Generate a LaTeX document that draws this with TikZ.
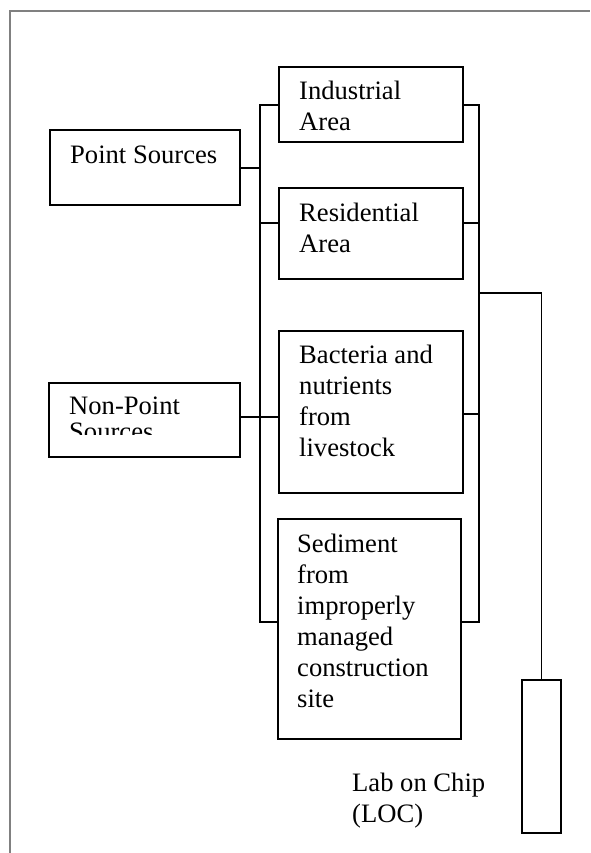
\documentclass[tikz,border=0pt]{standalone}
\usepackage{fontspec}
\setmainfont{Liberation Serif}
\begin{document}
\begin{tikzpicture}[x=1pt,y=-1pt,
  box/.style={draw=black, line width=1.6pt, rectangle, inner sep=0pt, anchor=north west},
  lbl/.style={anchor=base west, inner sep=0pt, align=left, font=\fontsize{26.6}{31}\selectfont},
  wire/.style={draw=black, line width=1.5pt},
  frame/.style={draw=black!50, line width=2pt}]
\useasboundingbox (0,0) rectangle (590,853);
% page frame (top and left edge)
\draw[frame] (10,853) -- (10,11) -- (590,11);
% boxes
\node[box, minimum width=190pt, minimum height=75pt] (ps) at (49,129) {};
\node[box, minimum width=184pt, minimum height=75pt] (ind) at (278,66) {};
\node[box, minimum width=184pt, minimum height=91pt] (res) at (278,187) {};
\node[box, minimum width=191pt, minimum height=74pt] (np) at (48,382) {};
\node[box, minimum width=184pt, minimum height=162pt] (bac) at (278,330) {};
\node[box, minimum width=183pt, minimum height=220pt] (sed) at (277,518) {};
\node[box, minimum width=39pt, minimum height=153pt] (loc) at (521,679) {};
% texts (base anchor = baseline of the last line)
\node[lbl] (tps) at (70,164) {Point Sources};
\node[lbl] (tind) at (299,131) {Industrial\\Area};
\node[lbl] (tres) at (299,252) {Residential\\Area};
\begin{scope}
\clip (40,384) rectangle (237,434);
\node[lbl, font=\fontsize{26.6}{26.5}\selectfont] (tnp) at (69,440.5) {Non-Point\\Sources};
\end{scope}
\node[lbl] (tbac) at (299,456) {Bacteria and\\nutrients\\from\\livestock};
\node[lbl] (tsed) at (297,707) {Sediment\\from\\improperly\\managed\\construction\\site};
\node[lbl] (tloc) at (352,822) {Lab on Chip\\(LOC)};
% bus coordinates
\coordinate (lbt) at (260,105);
\coordinate (lbb) at (260,622);
\coordinate (rbt) at (479,105);
\coordinate (rbb) at (479,622);
\coordinate (tap) at (479,293);
% buses
\draw[wire] (ind.west |- lbt) -- (lbt) -- (lbb) -- (sed.west |- lbb);
\draw[wire] (ind.east |- rbt) -- (rbt) -- (rbb) -- (sed.east |- rbb);
% branches
\draw[wire] (ps.east |- 0,168) -- (lbt |- 0,168);
\draw[wire] (res.west |- 0,223) -- (lbt |- 0,223);
\draw[wire] (res.east |- 0,223) -- (rbt |- 0,223);
\draw[wire] (np.east |- 0,417) -- (bac.west |- 0,417);
\draw[wire] (bac.east |- 0,414) -- (rbt |- 0,414);
\draw[wire] (tap) -| (loc.north);
\end{tikzpicture}
\end{document}
